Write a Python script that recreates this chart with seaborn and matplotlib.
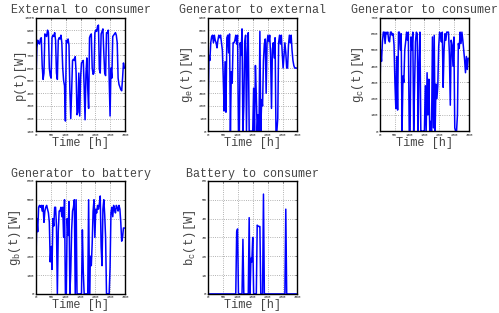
######IMPORTS#####

# Ignore Warnings
import warnings
warnings.filterwarnings("ignore")

# Basics:
import numpy as np
import pandas as pd

# Data viz:
import matplotlib
matplotlib.use("Agg")
import matplotlib.pyplot as plt
import seaborn as sns


###### Data (one value every 3 hours) ##############################

hours = list(range(0, 300, 3))

# external to consumer p(t)
p_vals = [500, 760, 820, 800, 790, 830, 840, 620, 510, 560,
          870, 860, 850, 900, 880, 600, 540, 520, 840, 860,
          850, 880, 820, 560, 510, 820, 840, 830, 860, 800,
          600, 500, 460, 180, 820, 800, 830, 780, 420, 200,
          420, 660, 670, 660, 690, 560, 230, 250, 560, 220,
          520, 640, 650, 660, 450, 190, 550, 680, 440, 280,
          840, 860, 870, 600, 550, 560, 880, 900, 890, 930,
          940, 590, 560, 870, 890, 910, 720, 560, 540, 880,
          880, 900, 520, 220, 600, 520, 850, 860, 870, 880,
          860, 800, 520, 470, 450, 430, 420, 520, 640, 600]

# generator to external g_e(t)
ge_vals = [170, 600, 560, 700, 750, 760, 700, 760, 720, 700,
           660, 720, 760, 740, 760, 700, 640, 420, 160, 550,
           150, 740, 760, 620, 770, 0, 470, 380, 700, 700,
           720, 760, 690, 760, 0, 0, 700, 600, 810, 0,
           200, 700, 760, 0, 620, 780, 0, 0, 0, 0,
           0, 340, 0, 520, 280, 0, 130, 0, 790, 0,
           250, 200, 560, 690, 730, 300, 700, 760, 710, 760,
           600, 180, 650, 700, 580, 740, 0, 0, 100, 700,
           760, 690, 760, 620, 500, 600, 700, 620, 500, 500,
           680, 760, 700, 760, 640, 560, 520, 500, 500, 500]

# generator to consumer g_c(t)
gc_vals = [150, 500, 430, 550, 610, 610, 540, 610, 600, 610,
           560, 550, 610, 610, 590, 600, 530, 300, 140, 460,
           130, 610, 610, 500, 600, 0, 340, 300, 500, 550,
           610, 560, 610, 0, 0, 580, 500, 610, 0, 280,
           550, 610, 600, 0, 420, 610, 0, 0, 0, 0,
           0, 280, 0, 360, 100, 320, 0, 60, 0, 580,
           20, 590, 0, 290, 200, 280, 520, 610, 590, 550,
           610, 270, 500, 600, 560, 610, 610, 610, 470, 160,
           560, 530, 400, 580, 20, 0, 0, 100, 540, 510,
           610, 540, 610, 560, 500, 440, 360, 460, 380, 450]

# generator to battery g_b(t)
gb_vals = [170, 400, 330, 460, 470, 460, 470, 440, 470, 380,
           440, 460, 470, 450, 430, 380, 170, 250, 130, 400,
           360, 460, 460, 360, 0, 330, 440, 440, 460, 410,
           460, 300, 500, 0, 0, 400, 310, 490, 0, 120,
           340, 440, 460, 500, 0, 500, 0, 0, 0, 0,
           0, 0, 340, 120, 0, 0, 0, 0, 0, 500,
           0, 200, 150, 270, 440, 500, 300, 450, 430, 470,
           450, 480, 520, 250, 150, 450, 500, 420, 300, 0,
           0, 0, 0, 140, 430, 460, 410, 470, 450, 430,
           470, 460, 440, 470, 450, 380, 280, 300, 350, 350]

# battery to consumer b_c(t)
bc_vals = [0] * 100
bc_vals[32] = 33
bc_vals[33] = 34.5
bc_vals[39] = 29
bc_vals[46] = 40.5
bc_vals[48] = 19
bc_vals[49] = 17
bc_vals[50] = 30
bc_vals[55] = 36.5
bc_vals[56] = 36
bc_vals[57] = 35.8
bc_vals[58] = 35.8
bc_vals[62] = 53
bc_vals[87] = 45

titles = ['External to consumer', 'Generator to external', 'Generator to consumer',
          'Generator to battery', 'Battery to consumer']
ylabels = ['p(t)[W]', r'$\mathrm{g_e(t)[W]}$', r'$\mathrm{g_c(t)[W]}$',
           r'$\mathrm{g_b(t)[W]}$', r'$\mathrm{b_c(t)[W]}$']
ylims = [(100, 1000), (0, 900), (0, 700), (0, 600), (0, 60)]
ysteps = [100, 100, 100, 100, 10]
series = [p_vals, ge_vals, gc_vals, gb_vals, bc_vals]


###### Plot ########

sns.set_style('white')
plt.rcParams['font.family'] = ['Liberation Mono', 'DejaVu Sans']
plt.rcParams['mathtext.fontset'] = 'custom'
plt.rcParams['mathtext.rm'] = 'Liberation Mono'
plt.rcParams['mathtext.it'] = 'Liberation Mono'

fig = plt.figure(figsize=(4.99, 3.13), dpi=100)

# axes boxes in figure fractions (left, bottom, width, height)
boxes = [(0.072, 0.581, 0.179, 0.363),
         (0.417, 0.581, 0.179, 0.363),
         (0.761, 0.581, 0.179, 0.363),
         (0.072, 0.061, 0.179, 0.361),
         (0.417, 0.061, 0.179, 0.361)]
# where the y label sits (axes fraction, right edge of rotated text)
label_x = [-0.11, -0.15, -0.15, -0.15, -0.11]

text_col = '#444444'

for i, vals in enumerate(series):
    ax = fig.add_axes(boxes[i])
    df = pd.DataFrame({'hour': hours, 'value': vals})
    sns.lineplot(data=df, x='hour', y='value', ax=ax, color='blue', linewidth=1.1)

    ax.set_xlim(0, 300)
    ax.set_ylim(*ylims[i])
    ax.set_xticks(range(0, 301, 50))
    ax.set_yticks(np.arange(ylims[i][0], ylims[i][1] + 1, ysteps[i]))
    ax.tick_params(labelsize=3, length=1.5, width=0.4, direction='in',
                   top=True, right=True, pad=1)
    ax.grid(True, linestyle=':', color='#999999', linewidth=0.6)
    for s in ax.spines.values():
        s.set_linewidth(1.0)
        s.set_color('black')

    ax.set_title(titles[i], fontsize=8.4, color=text_col, pad=3)
    ax.set_xlabel('Time [h]', fontsize=8.6, color=text_col, labelpad=0)
    ax.set_ylabel(ylabels[i], fontsize=8.8, color=text_col)
    ax.yaxis.set_label_coords(label_x[i], 0.5)

plt.savefig('out.png', dpi=100)
